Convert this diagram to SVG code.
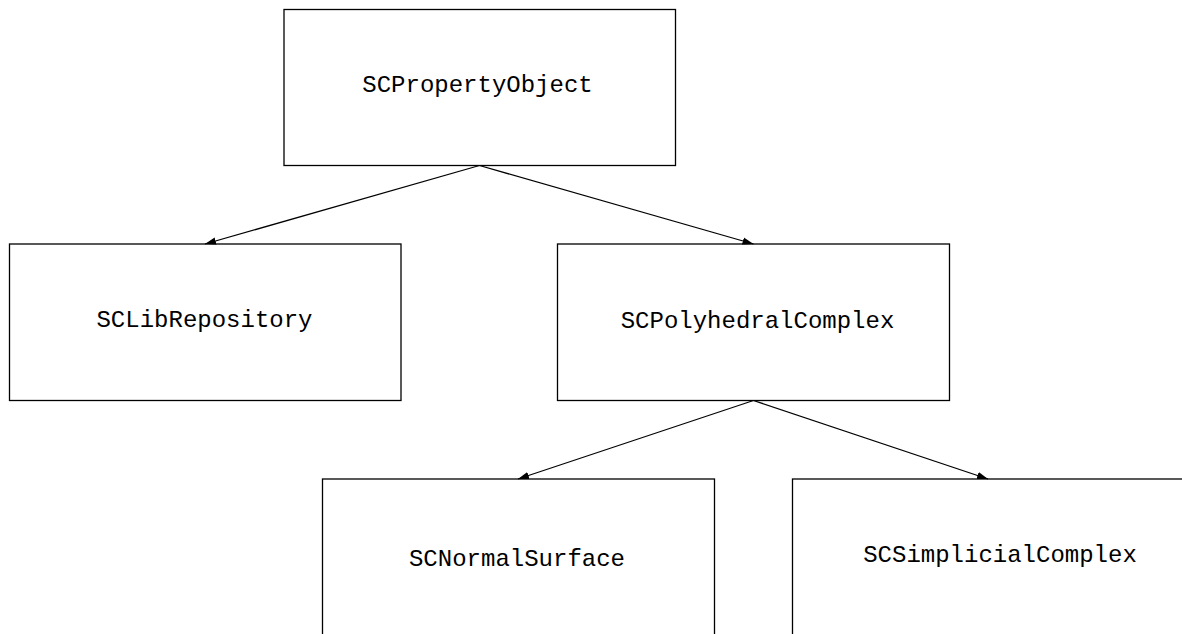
<svg xmlns="http://www.w3.org/2000/svg" width="1182" height="634" viewBox="0 0 1182 634">
<style>
.box{fill:#fff;stroke:#000;stroke-width:1.3}
.lbl{font-family:"Liberation Mono","DejaVu Sans Mono",monospace;font-size:24px;fill:#000;text-anchor:middle}
.edge{fill:none;stroke:#000;stroke-width:1.3}
</style>
<defs>
<marker id="arr" markerUnits="userSpaceOnUse" markerWidth="12" markerHeight="8" refX="11" refY="4" orient="auto">
<path d="M0,0.4 L11,4 L0,7.6 z" fill="#000"/>
</marker>
</defs>
<rect width="1182" height="634" fill="#fff"/>
<g id="n-SCPropertyObject">
<rect class="box" x="284" y="9.5" width="391.5" height="156"/>
<text class="lbl" x="477.5" y="91.5">SCPropertyObject</text>
</g>
<g id="n-SCLibRepository">
<rect class="box" x="9.5" y="244" width="391.5" height="156.5"/>
<text class="lbl" x="204.5" y="326.5">SCLibRepository</text>
</g>
<g id="n-SCPolyhedralComplex">
<rect class="box" x="557.5" y="244" width="392" height="156.5"/>
<text class="lbl" x="757.5" y="328">SCPolyhedralComplex</text>
</g>
<g id="n-SCNormalSurface">
<rect class="box" x="322.5" y="479" width="392" height="160"/>
<text class="lbl" x="517" y="566">SCNormalSurface</text>
</g>
<g id="n-SCSimplicialComplex">
<rect class="box" x="792.5" y="479" width="420" height="160"/>
<text class="lbl" x="1000" y="561.5">SCSimplicialComplex</text>
</g>
<g id="connectors">
<line class="edge" x1="479.5" y1="165.5" x2="205" y2="244" marker-end="url(#arr)"/>
<line class="edge" x1="479.5" y1="165.5" x2="753.5" y2="244" marker-end="url(#arr)"/>
<line class="edge" x1="753.5" y1="400.5" x2="518" y2="479" marker-end="url(#arr)"/>
<line class="edge" x1="753.5" y1="400.5" x2="988" y2="479" marker-end="url(#arr)"/>
</g>
</svg>
